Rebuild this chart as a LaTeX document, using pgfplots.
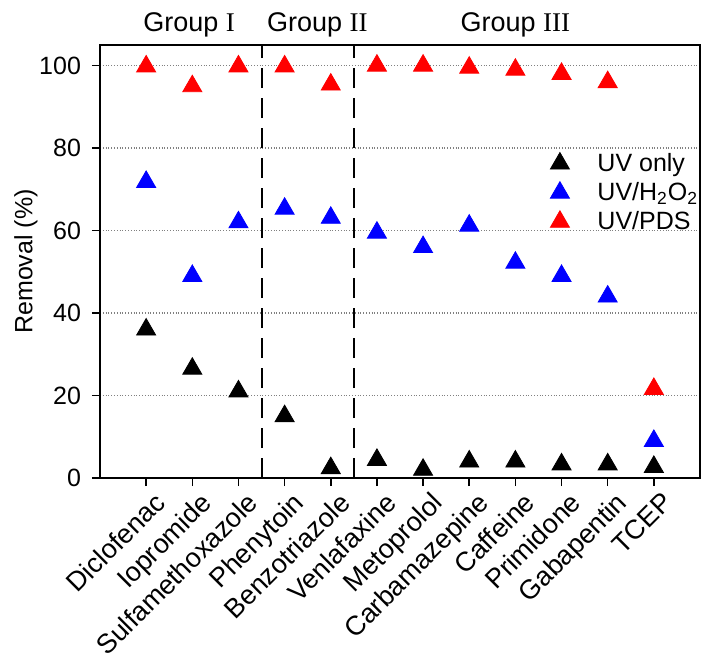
\documentclass[border=0pt]{standalone}
\usepackage{fontspec}
\setmainfont{Liberation Sans}
\newfontfamily\romanfont{Liberation Serif}
\usepackage{pgfplots}
\pgfplotsset{compat=1.18}
\usetikzlibrary{calc}

\begin{document}
\begin{tikzpicture}
\begin{axis}[
  scale only axis,
  width=300pt, height=216.5pt,
  xmin=-1, xmax=12, ymin=0, ymax=105,
  tick pos=left, tick align=outside,
  major tick length=4pt,
  tick style={black, line width=0.8pt},
  axis line style={line width=1pt},
  xtick={0,...,11},
  xticklabels={Diclofenac,Iopromide,Sulfamethoxazole,Phenytoin,Benzotriazole,Venlafaxine,Metoprolol,Carbamazepine,Caffeine,Primidone,Gabapentin,TCEP},
  xticklabel style={rotate=45, anchor=north east, inner sep=1pt,
    font=\fontsize{13.5}{15}\selectfont, xshift=2pt, yshift=-3pt},
  ytick={0,20,...,100},
  yticklabel style={font=\fontsize{12.5}{14}\selectfont, xshift=-2pt},
  ymajorgrids,
  major grid style={densely dotted, gray, line width=0.6pt},
  label style={font=\fontsize{12.5}{14}\selectfont},
  /pgf/number format/assume math mode=true,
  ylabel={Removal (\%)},
  ylabel style={yshift=-6pt},
  clip=false,
  legend style={at={(0.74,0.77)}, anchor=north west, draw=none, fill=none,
    font=\fontsize{12.5}{14}\selectfont, row sep=0pt},
  legend cell align=left,
]
\addplot[only marks, mark=triangle*, mark size=5.5pt, black] coordinates {
  (0,36) (1,26.5) (2,21) (3,15) (4,2.4) (5,4.4) (6,2) (7,4) (8,4) (9,3.3) (10,3.3) (11,2.7)};
\addlegendentry{\hspace*{12pt}UV only}
\addplot[only marks, mark=triangle*, mark size=5.5pt, blue] coordinates {
  (0,71.8) (1,49) (2,62) (3,65.3) (4,63.1) (5,59.5) (6,56) (7,61.2) (8,52.2) (9,49) (10,44) (11,9)};
\addlegendentry{\hspace*{12pt}UV/H\textsubscript{2}O\textsubscript{2}}
\addplot[only marks, mark=triangle*, mark size=5.5pt, red] coordinates {
  (0,99.8) (1,95) (2,99.8) (3,99.8) (4,95.4) (5,100) (6,100) (7,99.5) (8,99) (9,98) (10,96) (11,21.6)};
\addlegendentry{\hspace*{12pt}UV/PDS}

% group separators
\draw[black, line width=1pt, dash pattern=on 10pt off 5pt] (axis cs:2.5,0) -- (axis cs:2.5,105);
\draw[black, line width=1pt, dash pattern=on 10pt off 5pt] (axis cs:4.5,0) -- (axis cs:4.5,105);

% group titles
\node[anchor=base, font=\fontsize{13.5}{15}\selectfont, yshift=6.5pt] at (axis cs:0.93,105) {Group {\romanfont I}};
\node[anchor=base, font=\fontsize{13.5}{15}\selectfont, yshift=6.5pt] at (axis cs:3.71,105) {Group {\romanfont II}};
\node[anchor=base, font=\fontsize{13.5}{15}\selectfont, yshift=6.5pt] at (axis cs:8.0,105) {Group {\romanfont III}};
\end{axis}
\pgfresetboundingbox
\useasboundingbox ($(current axis.south west)+(-50pt,-93.5pt)$) rectangle ($(current axis.north east)+(0.5pt,22.5pt)$);
\end{tikzpicture}
\end{document}
